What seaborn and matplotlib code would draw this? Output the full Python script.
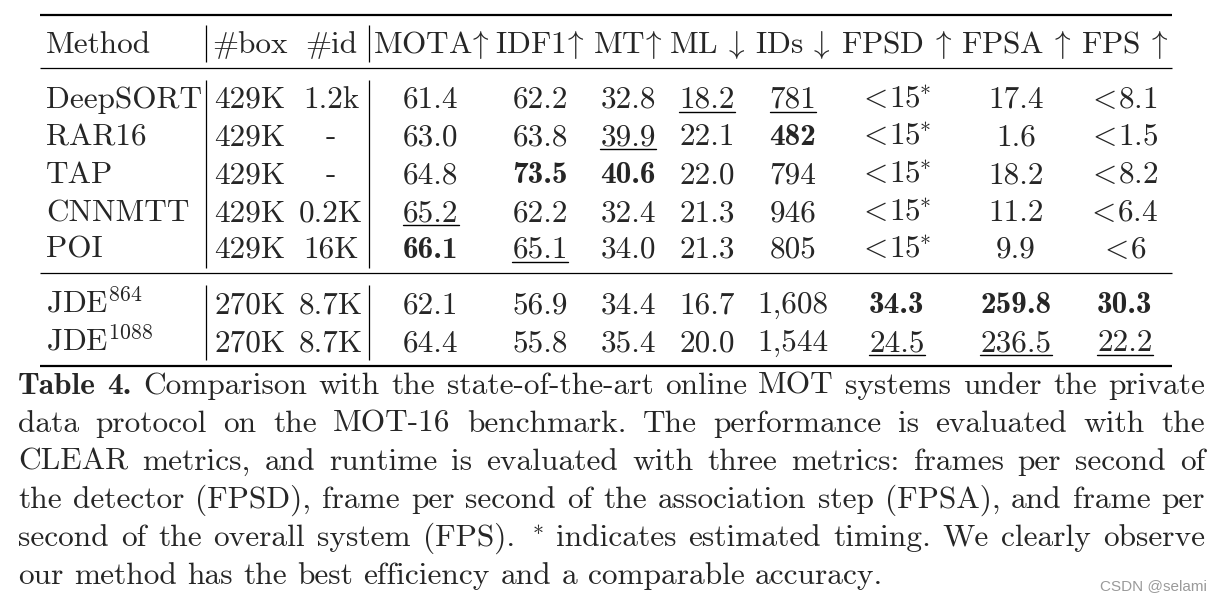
import matplotlib.pyplot as plt
import seaborn as sns

# table content
methods = ["DeepSORT", "RAR16", "TAP", "CNNMTT", "POI", r"JDE$^{864}$", r"JDE$^{1088}$"]
n_box = ["429K", "429K", "429K", "429K", "429K", "270K", "270K"]
n_id = ["1.2k", "-", "-", "0.2K", "16K", "8.7K", "8.7K"]
mota = ["61.4", "63.0", "64.8", "65.2", "66.1", "62.1", "64.4"]
idf1 = ["62.2", "63.8", "73.5", "62.2", "65.1", "56.9", "55.8"]
mt = ["32.8", "39.9", "40.6", "32.4", "34.0", "34.4", "35.4"]
ml = ["18.2", "22.1", "22.0", "21.3", "21.3", "16.7", "20.0"]
ids = ["781", "482", "794", "946", "805", "1,608", "1,544"]
fpsd = [r"$\!<\!\mathrm{15}^{\!\!*}$"] * 5 + ["34.3", "24.5"]
fpsa = ["17.4", "1.6", "18.2", "11.2", "9.9", "259.8", "236.5"]
fps = [r"$\!<\!\mathrm{8.1}$", r"$\!<\!\mathrm{1.5}$", r"$\!<\!\mathrm{8.2}$",
       r"$\!<\!\mathrm{6.4}$", r"$\!<\!\mathrm{6}$", "30.3", "22.2"]

headers = ["Method", "#box", "#id", r"MOTA$\!\uparrow\!$", r"IDF1$\!\uparrow\!$",
           r"MT$\!\uparrow\!$", r"ML $\!\downarrow\!$", r"IDs $\!\downarrow\!$",
           r"FPSD $\!\uparrow\!$", r"FPSA $\!\uparrow\!$", r"FPS $\!\uparrow\!$"]

# (row, col) of best / second best
bold_cells = [(4, 3), (2, 4), (2, 5), (1, 7), (5, 8), (5, 9), (5, 10)]
underline_cells = [(3, 3), (4, 4), (1, 5), (0, 6), (0, 7), (6, 8), (6, 9), (6, 10)]

caption = [
    "Table 4. Comparison with the state-of-the-art online MOT systems under the private",
    "data protocol on the MOT-16 benchmark. The performance is evaluated with the",
    "CLEAR metrics, and runtime is evaluated with three metrics: frames per second of",
    "the detector (FPSD), frame per second of the association step (FPSA), and frame per",
    r"second of the overall system (FPS). $^*$ indicates estimated timing. We clearly observe",
    "our method has the best efficiency and a comparable accuracy.",
]

sns.set_theme(style="white")
plt.rcParams["font.family"] = ["cmr10"]
plt.rcParams["mathtext.fontset"] = "cm"
plt.rcParams["axes.formatter.use_mathtext"] = True

fig = plt.figure(figsize=(12.22, 6.03), dpi=100)
ax = fig.add_axes([0, 0, 1, 1])
ax.set_xlim(0, 1222)
ax.set_ylim(603, 0)
ax.axis("off")
renderer = fig.canvas.get_renderer()

TS = 22.5  # table font size
CS = 22.6  # caption font size
col_x = [46, 250, 331, 431, 540, 628, 707, 793, 897, 1016, 1125]
head_y = 53
row_y = [108, 145, 183, 221, 258, 313, 351]

for j, h in enumerate(headers):
    ax.text(col_x[j], head_y, h, fontsize=TS, ha="left" if j == 0 else "center", va="baseline")

cols = [methods, n_box, n_id, mota, idf1, mt, ml, ids, fpsd, fpsa, fps]
for j, col in enumerate(cols):
    for i, v in enumerate(col):
        fam = "cmb10" if (i, j) in bold_cells else "cmr10"
        t = ax.text(col_x[j], row_y[i], v, fontsize=TS, family=fam,
                    ha="left" if j == 0 else "center", va="baseline")
        if (i, j) in underline_cells:
            bb = t.get_window_extent(renderer)
            ax.plot([bb.x0, bb.x1], [row_y[i] + 4, row_y[i] + 4], color="black", lw=1.0)

# rules
for y, lw in [(15, 1.6), (68, 0.9), (273, 0.9), (366, 1.6)]:
    ax.plot([40, 1172], [y, y], color="black", lw=lw, solid_capstyle="butt")
for x in [206, 369]:
    for y0, y1 in [(25, 62), (80, 268), (285, 360)]:
        ax.plot([x, x], [y0, y1], color="black", lw=0.9, solid_capstyle="butt")

# justified caption
x_left, x_right = 18, 1205
for k, line in enumerate(caption):
    y = 394 + k * 38
    words = line.split(" ")
    texts = []
    for w_i, w in enumerate(words):
        fam = "cmb10" if (k == 0 and w_i < 2) else "cmr10"
        texts.append(ax.text(0, y, w, fontsize=CS, family=fam, va="baseline", ha="left"))
    widths = [t.get_window_extent(renderer).width for t in texts]
    if k < len(caption) - 1:
        gap = (x_right - x_left - sum(widths)) / (len(words) - 1)
    else:
        gap = CS * 100 / 72 * 0.333
    x = x_left
    for t, w in zip(texts, widths):
        t.set_x(x)
        x += w + gap

ax.text(1207, 590, "CSDN @selami", fontsize=11, family="Liberation Sans",
        color="#9a9a9a", ha="right", va="baseline")

plt.savefig("out.png", dpi=100)
